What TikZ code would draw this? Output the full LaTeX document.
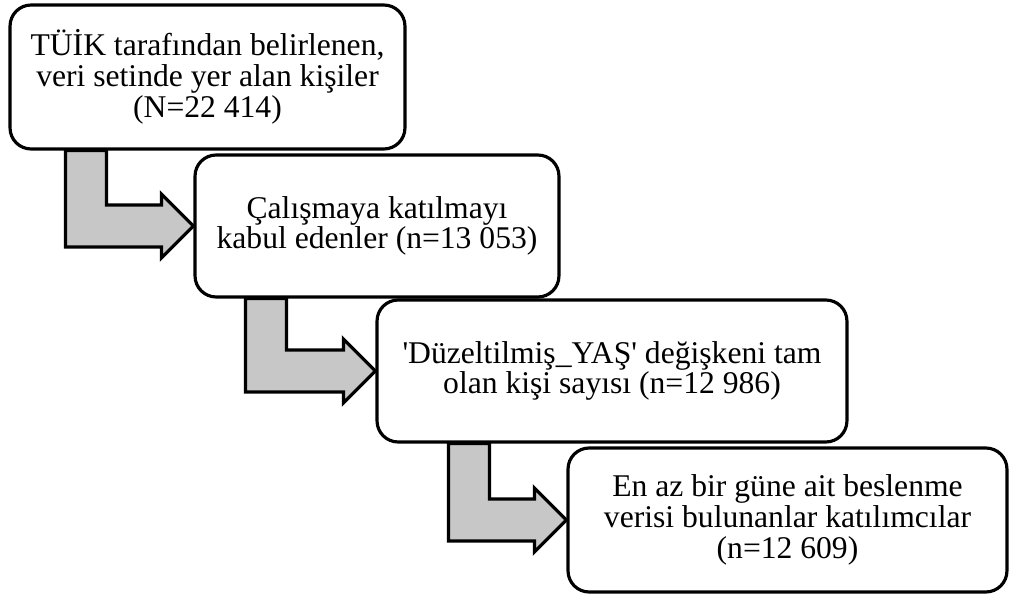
\documentclass[tikz,border=0pt]{standalone}
\usepackage{fontspec}
\setmainfont{Liberation Serif}[Ligatures=TeXOff]
\usetikzlibrary{calc,backgrounds}

\begin{document}
\begin{tikzpicture}[
  x=0.02cm, y=-0.02cm,
  font=\fontsize{18pt}{17.5pt}\selectfont,
  box/.style={
    draw=black,
    fill=white,
    rounded corners=12pt,
    line width=1.8pt,
    inner sep=0pt,
    align=center
  },
  bentflow/.style={
    draw=black,
    fill=black!22,
    line width=1.8pt,
    line join=miter
  }
]
\useasboundingbox (0,0) rectangle (1009,597);

\node[box, minimum width=7.9cm, minimum height=2.88cm] (population) at (207.5,77) {TÜİK tarafından belirlenen,\\veri setinde yer alan kişiler\\(N=22 414)};
\node[box, minimum width=7.28cm, minimum height=2.84cm] (consent) at (377,226) {Çalışmaya katılmayı\\kabul edenler (n=13 053)};
\node[box, minimum width=9.4cm, minimum height=2.84cm] (ageData) at (612,371) {'Düzeltilmiş\_YAŞ' değişkeni tam\\olan kişi sayısı (n=12 986)};
\node[box, minimum width=8.78cm, minimum height=2.88cm] (dietData) at (787.5,520) {En az bir güne ait beslenme\\verisi bulunanlar katılımcılar\\(n=12 609)};

\begin{scope}[on background layer]
\foreach \src/\dst/\xoff in {population/consent/57, consent/ageData/52, ageData/dietData/73}{
  \coordinate (sl) at ($(\src.south west)+(\xoff,0)$);
  \coordinate (sr) at ($(sl)+(41,0)$);
  \coordinate (tip) at (\dst.west);
  \coordinate (hu) at ($(tip)+(-32,-21)$);
  \coordinate (hl) at ($(tip)+(-32,21)$);
  \draw[bentflow] (sl) -- (sl |- hl) -- (hl) -- ($(tip)+(-32,32)$) -- (tip)
    -- ($(tip)+(-32,-32)$) -- (hu) -- (sr |- hu) -- (sr) -- cycle;
}
\end{scope}

\end{tikzpicture}
\end{document}
